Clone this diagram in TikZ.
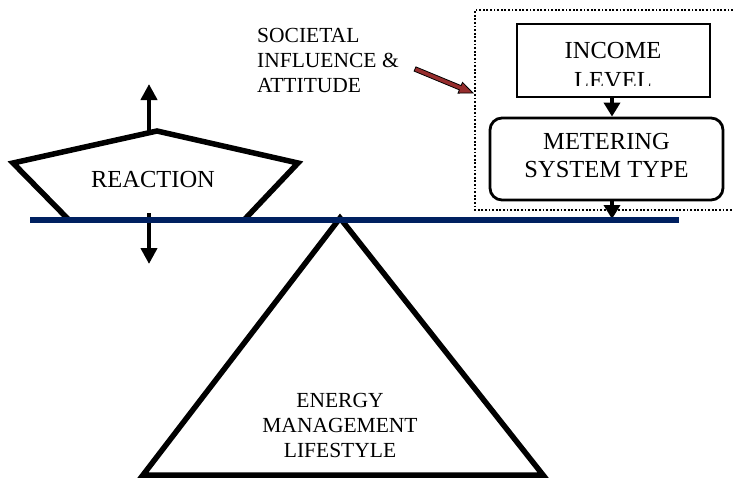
\documentclass[tikz,border=0pt]{standalone}
\usepackage{fontspec}
\setmainfont{Liberation Serif}
\usetikzlibrary{arrows.meta}
\definecolor{navy}{RGB}{0,32,96}
\definecolor{brickred}{RGB}{150,45,45}
\begin{document}
\begin{tikzpicture}[x=1pt,y=-1pt,
  bigtxt/.style={font=\fontsize{24.5}{28}\selectfont, align=center, inner sep=0pt},
  smalltxt/.style={font=\fontsize{21.5}{24.7}\selectfont, inner sep=0pt},
  bigarrow/.style={line width=4.5pt, -{Triangle[width=16pt,length=16pt]}},
  smallarrow/.style={line width=4pt, -{Triangle[width=16pt,length=14pt]}},
  thickshape/.style={line width=5.5pt, line join=miter},
  boxline/.style={line width=2.8pt},
  dotline/.style={line width=2.4pt, dash pattern=on 1.8pt off 1.8pt}]
\useasboundingbox (0,0) rectangle (733,479);

% fulcrum triangle
\draw[thickshape] (340,218) -- (543,475) -- (143,475) -- cycle;
\node[smalltxt, align=center, anchor=base] (energy) at (340,457) {ENERGY\\MANAGEMENT\\LIFESTYLE};

% reaction pentagon
\coordinate (ptop) at (149,131);
\coordinate (pbot) at (149,213);
\coordinate (pup) at (149,84);
\coordinate (pdown) at (149,264);
\draw[thickshape, fill=white] (68,219) -- (13,163) -- (157,131) -- (298,163) -- (245,219);
\node[bigtxt, anchor=base] (reaction) at (153,187) {REACTION};
\draw[bigarrow] (ptop) -- (pup);
\draw[bigarrow] (pbot) -- (pdown);

% dotted group box
\coordinate (dtl) at (475,10);
\coordinate (dbl) at (475,210);
\draw[dotline] (733,10) -- (dtl) -- (dbl) -- (733,210);
\coordinate (dtip) at (473,93);

% income box
\node[draw, boxline, minimum width=193pt, minimum height=73pt, inner sep=0pt] (inc) at (613.5,60.5) {};
\begin{scope}
  \clip (518,25) rectangle (709,85);
  \node[font=\fontsize{24.5}{30}\selectfont, align=center, inner sep=0pt, anchor=base] (inctxt) at (613,88) {INCOME\\LEVEL};
\end{scope}

% metering box
\node[draw, boxline, rounded corners=12pt, minimum width=233pt, minimum height=82pt, inner sep=0pt] (met) at (606.5,159) {};
\node[bigtxt, anchor=base] (mettxt) at (606.5,177) {METERING\\SYSTEM TYPE};

\coordinate (beam) at (612,219);
\draw[smallarrow] (inc.south -| 612,0) -- (met.north -| 612,0);
\draw[smallarrow] (met.south -| 612,0) -- (beam);

% beam
\draw[navy, line width=6pt] (30,220) -- (679,220);

% societal text and arrow
\node[smalltxt, align=left, anchor=base west] (soc) at (257,92) {SOCIETAL\\INFLUENCE \&\\ATTITUDE};
\coordinate (sa) at (415,69);
\begin{scope}[shift={(sa)}, rotate=-22.5]
  \filldraw[fill=brickred, draw=black, line width=0.8pt] (0,-2.3) -- (49,-2.3) -- (49,-5.8) -- (62.8,0) -- (49,5.8) -- (49,2.3) -- (0,2.3) -- cycle;
\end{scope}
\end{tikzpicture}
\end{document}
